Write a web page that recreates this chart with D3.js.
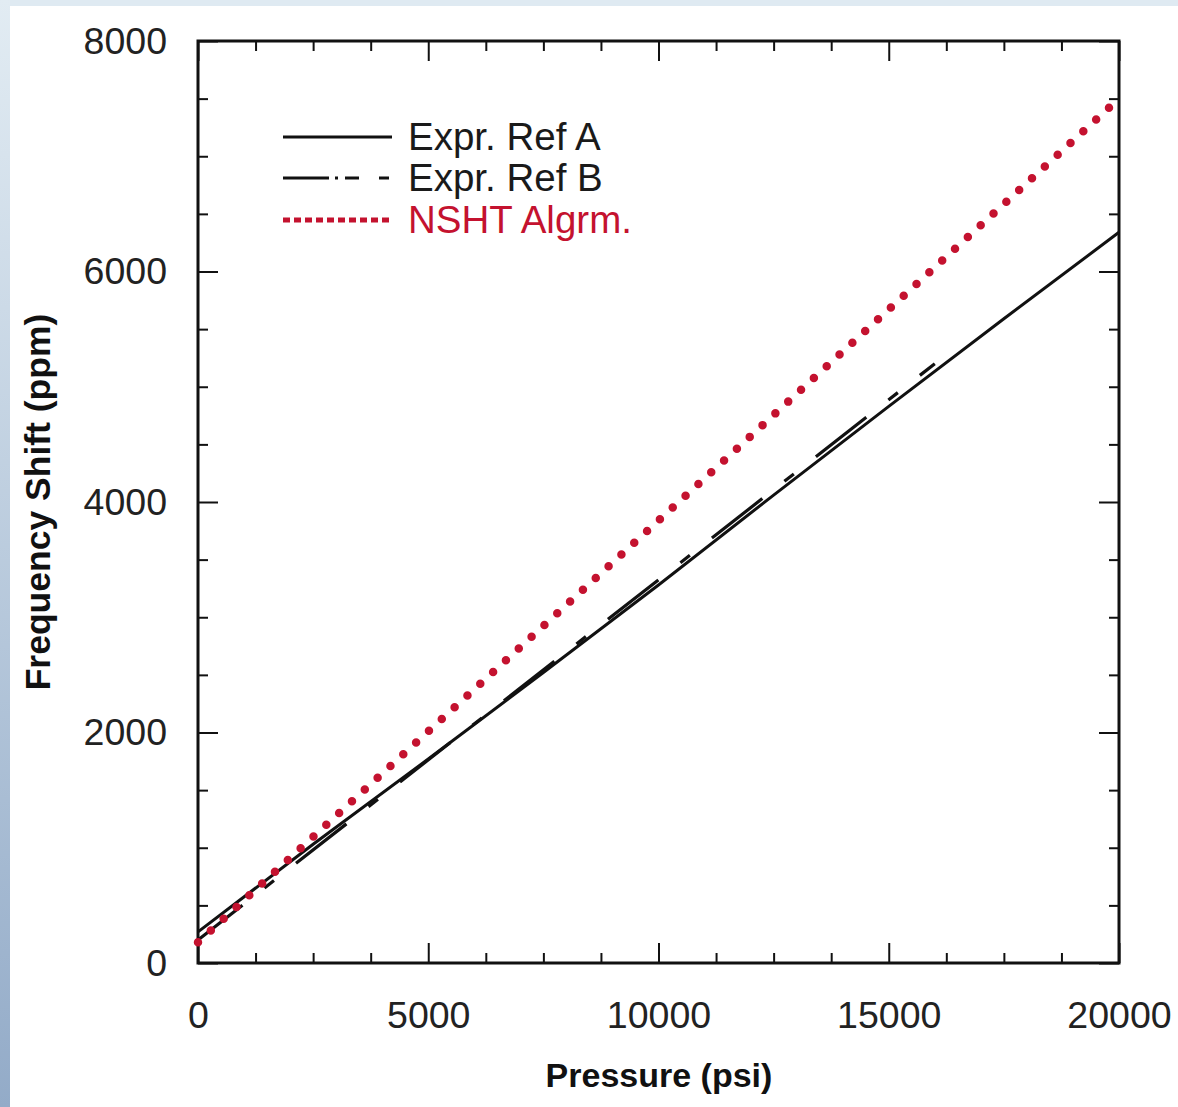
<!DOCTYPE html>
<html>
<head>
<meta charset="utf-8">
<script src="https://d3js.org/d3.v7.min.js"></script>
<style>
  body { margin: 0; background: #fff; }
  text { font-family: "Liberation Sans", Arial, sans-serif; }
</style>
</head>
<body>
<script>
// data
var pressure = [0, 2500, 5000, 7500, 10000, 12500, 15000, 17500, 20000];
var refA = [270, 1030, 1770, 2520, 3280, 4060, 4830, 5590, 6340];
var pressureB = [0, 4000, 8000, 12000, 16000];
var refB = [200, 1450, 2700, 3950, 5200];
var pressureN = [0, 5000, 10000, 15000, 20000];
var nsht = [180, 2010, 3840, 5670, 7500];
var xTicks = [0, 5000, 10000, 15000, 20000];
var yTicks = [0, 2000, 4000, 6000, 8000];
var names = ["Expr. Ref A", "Expr. Ref B", "NSHT Algrm."];

var W = 1178, H = 1107;
var plotL = 198, plotR = 1119, plotT = 41, plotB = 963;
var red = "#c4122f";

var svg = d3.select("body").append("svg")
  .attr("width", W).attr("height", H);

// slide background strips
var defs = svg.append("defs");
var grad = defs.append("linearGradient").attr("id", "side")
  .attr("x1", 0).attr("y1", 0).attr("x2", 0).attr("y2", 1);
grad.append("stop").attr("offset", "0%").attr("stop-color", "#e2ecf3");
grad.append("stop").attr("offset", "100%").attr("stop-color", "#93abc8");
svg.append("rect").attr("x", 0).attr("y", 0).attr("width", W).attr("height", 6).attr("fill", "#dfeaf2");
svg.append("rect").attr("x", 0).attr("y", 0).attr("width", 10).attr("height", H).attr("fill", "url(#side)");

var x = d3.scaleLinear().domain([0, 20000]).range([plotL, plotR]);
var y = d3.scaleLinear().domain([0, 8000]).range([plotB, plotT]);

var xMinor = d3.range(0, 20001, 1250).filter(function(d) { return xTicks.indexOf(d) < 0; });
var yMinor = d3.range(0, 8001, 500).filter(function(d) { return yTicks.indexOf(d) < 0; });

function styleAxis(g) {
  g.select(".domain").remove();
  g.selectAll(".tick line").attr("stroke", "#111").attr("stroke-width", 2);
  g.selectAll(".tick text").attr("font-size", 37.5).attr("fill", "#222");
}

// bottom
svg.append("g").attr("transform", "translate(0," + plotB + ")")
  .call(d3.axisBottom(x).tickValues(xTicks).tickSize(-20).tickPadding(38).tickFormat(d3.format("d")))
  .call(styleAxis);
svg.append("g").attr("transform", "translate(0," + plotB + ")")
  .call(d3.axisBottom(x).tickValues(xMinor).tickSize(-10).tickFormat(""))
  .call(styleAxis);
// top
svg.append("g").attr("transform", "translate(0," + plotT + ")")
  .call(d3.axisTop(x).tickValues(xTicks).tickSize(-20).tickFormat(""))
  .call(styleAxis);
svg.append("g").attr("transform", "translate(0," + plotT + ")")
  .call(d3.axisTop(x).tickValues(xMinor).tickSize(-10).tickFormat(""))
  .call(styleAxis);
// left
svg.append("g").attr("transform", "translate(" + plotL + ",0)")
  .call(d3.axisLeft(y).tickValues(yTicks).tickSize(-20).tickPadding(31).tickFormat(d3.format("d")))
  .call(styleAxis);
svg.append("g").attr("transform", "translate(" + plotL + ",0)")
  .call(d3.axisLeft(y).tickValues(yMinor).tickSize(-10).tickFormat(""))
  .call(styleAxis);
// right
svg.append("g").attr("transform", "translate(" + plotR + ",0)")
  .call(d3.axisRight(y).tickValues(yTicks).tickSize(-20).tickFormat(""))
  .call(styleAxis);
svg.append("g").attr("transform", "translate(" + plotR + ",0)")
  .call(d3.axisRight(y).tickValues(yMinor).tickSize(-10).tickFormat(""))
  .call(styleAxis);

// frame
svg.append("rect")
  .attr("x", plotL).attr("y", plotT)
  .attr("width", plotR - plotL).attr("height", plotB - plotT)
  .attr("fill", "none").attr("stroke", "#111").attr("stroke-width", 3);

var line = d3.line()
  .x(function(d) { return x(d[0]); })
  .y(function(d) { return y(d[1]); });

// Ref A
svg.append("path")
  .datum(d3.zip(pressure, refA))
  .attr("d", line)
  .attr("fill", "none").attr("stroke", "#111").attr("stroke-width", 3);

// Ref B, long dash / short dash
var period = 132;
var pathB = svg.append("path")
  .datum(d3.zip(pressureB, refB))
  .attr("d", line)
  .attr("fill", "none").attr("stroke", "#111").attr("stroke-width", 3.2)
  .attr("stroke-dasharray", "64 28 12 28");
var lenB = pathB.node().getTotalLength();
var startAt = lenB * 11160 / 16000;
pathB.attr("stroke-dashoffset", (period - startAt % period) % period);

// NSHT dotted
svg.append("path")
  .datum(d3.zip(pressureN, nsht))
  .attr("d", line)
  .attr("fill", "none").attr("stroke", red).attr("stroke-width", 8.5)
  .attr("stroke-linecap", "round").attr("stroke-dasharray", "0 17.4");

// legend
var legend = svg.append("g");
var rows = [137, 178, 220];
legend.append("line").attr("x1", 283).attr("x2", 392).attr("y1", rows[0]).attr("y2", rows[0])
  .attr("stroke", "#111").attr("stroke-width", 3);
legend.append("line").attr("x1", 283).attr("x2", 393).attr("y1", rows[1]).attr("y2", rows[1])
  .attr("stroke", "#111").attr("stroke-width", 3)
  .attr("stroke-dasharray", "46 6 3 7 14 20 10");
legend.append("line").attr("x1", 283).attr("x2", 393).attr("y1", rows[2]).attr("y2", rows[2])
  .attr("stroke", red).attr("stroke-width", 5)
  .attr("stroke-dasharray", "7 4");
legend.selectAll("text").data(names).enter().append("text")
  .attr("x", 408)
  .attr("y", function(d, i) { return rows[i]; })
  .attr("dy", "0.35em")
  .attr("font-size", 38.5)
  .attr("fill", function(d, i) { return i == 2 ? red : "#1a1a1a"; })
  .text(function(d) { return d; });

// axis titles
svg.append("text")
  .attr("x", 659).attr("y", 1087)
  .attr("text-anchor", "middle")
  .attr("font-size", 34).attr("font-weight", "bold").attr("fill", "#111")
  .text("Pressure (psi)");
svg.append("text")
  .attr("transform", "translate(50,502) rotate(-90)")
  .attr("text-anchor", "middle")
  .attr("font-size", 35.5).attr("font-weight", "bold").attr("fill", "#111")
  .text("Frequency Shift (ppm)");
</script>
</body>
</html>
